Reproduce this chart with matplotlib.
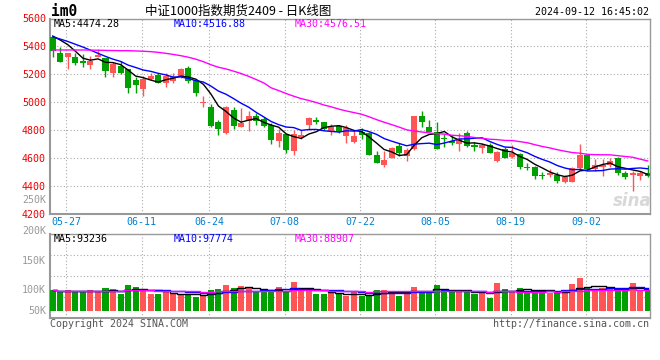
import numpy as np
import pandas as pd
import matplotlib
matplotlib.use('Agg')
import matplotlib.pyplot as plt

# daily bars of IM0, 2024-05-23 .. 2024-09-12
opens = [5465, 5355, 5321, 5321, 5297, 5269, 5326, 5316, 5211, 5259,
         5240, 5159, 5096, 5163, 5197, 5135, 5154, 5178, 5245, 5159,
         4993, 4967, 4857, 4775, 4943, 4824, 4862, 4900, 4876, 4833,
         4721, 4771, 4651, 4749, 4838, 4871, 4857, 4795, 4828, 4757,
         4714, 4785, 4781, 4618, 4551, 4601, 4685, 4613, 4661, 4900,
         4824, 4788, 4740, 4721, 4699, 4781, 4692, 4673, 4690, 4579,
         4661, 4606, 4627, 4536, 4532, 4474, 4474, 4479, 4426, 4429,
         4524, 4618, 4517, 4532, 4546, 4601, 4493, 4474, 4469, 4490]
highs = [5470, 5393, 5350, 5350, 5345, 5331, 5380, 5318, 5288, 5295,
         5240, 5182, 5187, 5206, 5206, 5211, 5211, 5245, 5259, 5163,
         5044, 4986, 4871, 4972, 4962, 4957, 4938, 4919, 4891, 4848,
         4804, 4781, 4800, 4800, 4891, 4891, 4857, 4840, 4836, 4833,
         4800, 4814, 4788, 4651, 4651, 4680, 4704, 4668, 4900, 4938,
         4871, 4859, 4771, 4757, 4776, 4795, 4714, 4709, 4709, 4651,
         4675, 4692, 4637, 4565, 4541, 4500, 4517, 4498, 4476, 4536,
         4699, 4620, 4594, 4594, 4596, 4603, 4508, 4508, 4508, 4548]
lows = [5326, 5288, 5235, 5269, 5254, 5240, 5326, 5182, 5182, 5202,
        5068, 5063, 5044, 5159, 5135, 5111, 5139, 5173, 5139, 5044,
        4967, 4824, 4764, 4771, 4809, 4824, 4795, 4836, 4824, 4699,
        4680, 4637, 4623, 4737, 4800, 4843, 4800, 4766, 4776, 4709,
        4709, 4737, 4620, 4560, 4536, 4599, 4613, 4579, 4656, 4824,
        4788, 4666, 4675, 4692, 4651, 4680, 4651, 4637, 4632, 4572,
        4596, 4601, 4517, 4512, 4450, 4445, 4460, 4422, 4417, 4426,
        4517, 4512, 4508, 4469, 4536, 4479, 4445, 4365, 4441, 4462]
closes = [5369, 5290, 5350, 5283, 5283, 5297, 5338, 5226, 5273, 5211,
          5104, 5120, 5168, 5187, 5139, 5187, 5178, 5240, 5154, 5063,
          5003, 4828, 4809, 4962, 4828, 4852, 4900, 4867, 4828, 4728,
          4776, 4656, 4771, 4764, 4886, 4859, 4804, 4819, 4785, 4816,
          4757, 4766, 4623, 4565, 4587, 4670, 4637, 4656, 4900, 4857,
          4788, 4666, 4733, 4709, 4733, 4685, 4675, 4692, 4637, 4644,
          4601, 4632, 4536, 4527, 4472, 4469, 4488, 4436, 4460, 4524,
          4623, 4517, 4548, 4546, 4577, 4493, 4460, 4488, 4493, 4468]
volumes = [88100, 79600, 88100, 78200, 83800, 88100, 78200, 96600, 92300, 69700,
           109400, 100900, 92300, 69700, 69700, 83800, 69700, 69700, 69700, 59700,
           64000, 88100, 92300, 109400, 96600, 105100, 95200, 78200, 83800, 83800,
           100900, 81000, 122100, 92300, 92300, 71100, 71100, 78200, 69700, 64000,
           78200, 64000, 66800, 88100, 88100, 83800, 64000, 78200, 100900, 83800,
           83800, 109400, 88100, 78200, 88100, 78200, 69700, 78200, 54000, 117900,
           92300, 78200, 96600, 83800, 88100, 88100, 73900, 73900, 83800, 113600,
           140600, 95200, 88100, 95200, 95200, 88100, 88100, 116500, 88100, 88100]

# moving averages before the window is full (they depend on earlier bars)
ma5_head = [5474, 5445, 5412, 5365]
ma10_head = [5468, 5452, 5435, 5415, 5395, 5373, 5350, 5328, 5308]
ma30_head = [5374, 5374, 5374, 5374, 5374, 5373, 5372, 5371, 5370, 5369,
             5369, 5367, 5365, 5362, 5357, 5350, 5342, 5333, 5322, 5308,
             5290, 5268, 5250, 5238, 5222, 5205, 5185, 5162, 5138]

date_labels = ['05-27', '06-11', '06-24', '07-08', '07-22', '08-05', '08-19', '09-02']
date_idx = [2, 12, 21, 31, 41, 51, 61, 71]
price_ticks = [4200, 4400, 4600, 4800, 5000, 5200, 5400, 5600]
vol_labels = ['250K', '200K', '150K', '100K', '50K']

title = '中证1000指数期货2409 - 日K线图'
stamp = '2024-09-12 16:45:02'
ma_text = ['MA5:4474.28', 'MA10:4516.88', 'MA30:4576.51']
vma_text = ['MA5:93236', 'MA10:97774', 'MA30:88907']

RED = '#ff5555'
GREEN = '#00a000'
MA_COLORS = ['black', '#0000ff', '#ff00ff']
GRID = '#aaaaaa'
MONO = 'DejaVu Sans Mono'
W, H = 660, 360


def ma(series, n, head):
    out = pd.Series(series, dtype=float).rolling(n).mean().values
    out[:len(head)] = head
    return out


def fx(px):
    return px / W


def fy(py):
    return 1 - py / H


o = np.array(opens, dtype=float)
c = np.array(closes, dtype=float)
hi = np.array(highs, dtype=float)
lo = np.array(lows, dtype=float)
x = np.arange(len(c))
up = c >= o
colors = np.where(up, RED, GREEN)

fig = plt.figure(figsize=(6.6, 3.6), dpi=100)
ax = fig.add_axes([fx(50), fy(213.5), 599.5 / W, 195 / H])
axv = fig.add_axes([fx(50), fy(318.3), 599.5 / W, 84 / H])

# candles
ax.vlines(x, lo, hi, colors=colors, lw=1, zorder=2)
body = np.maximum(np.abs(c - o), 5)
ax.bar(x, body, bottom=np.minimum(o, c), width=0.8, color=colors, zorder=3)

ma_lines = [ma(closes, 5, ma5_head), ma(closes, 10, ma10_head), ma(closes, 30, ma30_head)]
for line, col in zip(ma_lines, MA_COLORS):
    ax.plot(x, line, color=col, lw=1, zorder=4)

ax.set_xlim(-0.37, 79.24)
ax.set_ylim(4200, 5600)
ax.set_yticks(price_ticks)
ax.set_xticks([d - 0.2 for d in date_idx])
ax.set_xticklabels(date_labels)
ax.tick_params(axis='x', length=0, pad=2.5, labelsize=7.2, labelcolor='#0080d0')
ax.tick_params(axis='y', length=0, pad=3, labelsize=7.2, labelcolor='#ee0000')
for lab in ax.get_xticklabels() + ax.get_yticklabels():
    lab.set_family(MONO)
ax.grid(True, color=GRID, linestyle=(0, (1, 2)), lw=0.8, zorder=0)

# volume
axv.bar(x, volumes, width=0.8, color=colors, zorder=3)
vma_lines = [pd.Series(volumes, dtype=float).rolling(n, min_periods=1).mean().values
             for n in (5, 10, 30)]
for line, col in zip(vma_lines, MA_COLORS):
    axv.plot(x, line, color=col, lw=1, drawstyle='steps-mid', zorder=4)
axv.set_xlim(-0.37, 79.24)
axv.set_ylim(-32300, 325100)
axv.set_xticks([d - 0.2 for d in date_idx])
axv.set_xticklabels([])
axv.set_yticks([])
axv.tick_params(length=0)
axv.grid(True, axis='x', color=GRID, linestyle=(0, (1, 2)), lw=0.8, zorder=0)
for f in (0.25, 0.5, 0.75):
    axv.plot([0, 1], [f, f], transform=axv.transAxes, color=GRID,
             linestyle=(0, (1, 2)), lw=0.8, zorder=0)

for a in (ax, axv):
    for side, sp in a.spines.items():
        sp.set_color('#999999')
        sp.set_linewidth(1.5 if side in ('left', 'bottom') else 1)

# volume scale labels (as placed on the original)
for lab, py in zip(vol_labels, [200, 231, 260.7, 290, 311]):
    fig.text(fx(46), fy(py), lab, ha='right', va='center', fontsize=7.2,
             family=MONO, color='#999999')

# header texts
fig.text(fx(51), fy(12), 'im0', ha='left', va='center', fontsize=10.5,
         family=MONO, weight='bold', color='black')
fig.text(fx(238), fy(11), title, ha='center', va='center', fontsize=9,
         family=['Noto Sans CJK SC', 'DejaVu Sans'], color='black')
fig.text(fx(649), fy(12), stamp, ha='right', va='center', fontsize=7.2,
         family=MONO, color='black')

for txt, px, col in zip(ma_text, [54, 174, 295], MA_COLORS):
    fig.text(fx(px), fy(24), txt, ha='left', va='center', fontsize=7.2,
             family=MONO, color=col)
for txt, px, col in zip(vma_text, [54, 174, 295], MA_COLORS):
    fig.text(fx(px), fy(239), txt, ha='left', va='center', fontsize=7.2,
             family=MONO, color=col)

# watermark and footer
fig.text(fx(632), fy(201), 'sina', ha='center', va='center', fontsize=12,
         style='italic', weight='bold', color='#d8d8d8')
fig.text(fx(50), fy(324), 'Copyright 2024 SINA.COM', ha='left', va='center',
         fontsize=7.2, family=MONO, color='#555555')
fig.text(fx(649), fy(324), 'http://finance.sina.com.cn', ha='right', va='center',
         fontsize=7.2, family=MONO, color='#555555')

fig.savefig('out.png', dpi=100, facecolor='white')
